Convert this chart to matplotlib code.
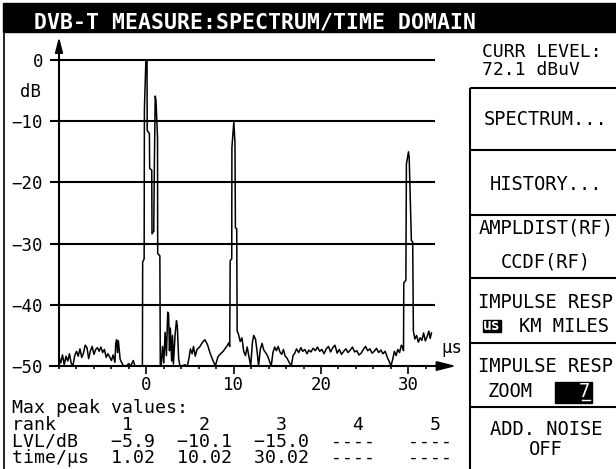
import matplotlib.pyplot as plt
from matplotlib.patches import Rectangle
from matplotlib.ticker import MultipleLocator

W, H = 616, 469

# impulse response trace: time in microseconds, level in dB
trace_us = [
    -10.0, -9.8, -9.6, -9.4, -9.2, -9.0, -8.8, -8.6, -8.4, -8.2, -8.0, -7.8,
    -7.6, -7.4, -7.2, -7.0, -6.8, -6.6, -6.4, -6.2, -6.0, -5.8, -5.6, -5.4,
    -5.2, -5.0, -4.8, -4.6, -4.4, -4.2, -4.0, -3.8, -3.6, -3.5, -3.4, -3.3,
    -3.2, -3.0, -2.8, -2.6, -2.3, -2.0, -1.8, -1.5, -1.3, -1.0, -0.6,
    # main echo cluster
    -0.45, -0.42, -0.25, -0.22, -0.05, 0.08, 0.1, 0.35, 0.38, 0.62, 0.65,
    0.85, 0.92, 1.02, 1.1, 1.28, 1.3, 1.55, 1.6,
    1.7, 1.85, 2.0, 2.15, 2.3, 2.45, 2.55, 2.65, 2.75, 2.9, 3.0, 3.1, 3.3,
    3.45, 3.55, 3.7, 3.85, 4.1, 4.4, 4.7, 4.9, 5.05, 5.25, 5.4, 5.6, 5.8,
    6.1, 6.4, 6.7, 7.0, 7.3, 7.6, 7.9, 8.2, 8.5, 8.8, 9.1, 9.3, 9.45,
    # echo at 10 us
    9.55, 9.6, 9.78, 9.8, 9.92, 10.02, 10.15, 10.2, 10.35, 10.4,
    10.55, 10.75, 10.95, 11.15, 11.35, 11.55, 11.75, 11.95, 12.15, 12.3,
    12.5, 12.7, 12.85, 13.05, 13.25, 13.45, 13.7, 13.9, 14.1, 14.3, 14.5,
    14.7, 14.9, 15.1, 15.3, 15.5, 15.7, 15.9, 16.1, 16.35, 16.6, 16.8, 17.0,
    17.2, 17.45, 17.7, 17.9, 18.15, 18.4, 18.6, 18.85, 19.1, 19.35, 19.6,
    19.85, 20.1, 20.35, 20.6, 20.85, 21.1, 21.35, 21.6, 21.85, 22.1, 22.35,
    22.6, 22.85, 23.1, 23.35, 23.6, 23.85, 24.1, 24.35, 24.6, 24.85, 25.1,
    25.35, 25.6, 25.85, 26.1, 26.35, 26.6, 26.85, 27.1, 27.35, 27.6, 27.85,
    28.0, 28.2, 28.4, 28.6, 28.8, 29.0, 29.2, 29.35,
    # echo at 30 us
    29.45, 29.48, 29.72, 29.78, 30.02, 30.1, 30.35, 30.5, 30.58,
    30.75, 30.95, 31.15, 31.35, 31.55, 31.75, 31.95, 32.15, 32.35, 32.5, 32.65,
]
trace_db = [
    -48.5, -49.5, -48.2, -49.8, -48.4, -49.2, -48.0, -49.6, -49.9, -48.3, -47.6, -48.4,
    -47.2, -48.6, -47.9, -46.6, -47.0, -48.8, -47.5, -46.8, -48.1, -47.3, -47.0, -47.6,
    -46.9, -47.8, -47.3, -48.6, -48.0, -48.5, -49.1, -48.2, -49.4, -46.3, -45.7, -47.8,
    -45.9, -48.9, -49.5, -50.0, -50.0, -49.6, -50.0, -49.1, -50.0, -50.0, -50.0,
    -50.0, -33.0, -32.5, -8.0, 0.0, 0.0, -11.5, -12.0, -17.7, -18.0, -28.4,
    -28.0, -17.0, -5.9, -6.5, -12.6, -31.6, -32.0, -50.0,
    -50.0, -46.8, -49.5, -44.5, -48.3, -41.2, -41.5, -47.5, -43.8, -49.2, -45.0, -49.7, -44.8,
    -42.6, -43.5, -48.8, -50.0, -50.0, -49.8, -50.0, -48.6, -47.2, -48.0, -46.8, -48.4, -47.3,
    -46.9, -46.2, -45.7, -46.5, -47.9, -49.0, -50.0, -48.5, -48.0, -47.6, -47.0, -46.6, -46.2,
    -46.8, -32.8, -32.5, -14.3, -12.0, -10.1, -13.6, -27.4, -27.6, -44.3,
    -44.8, -46.0, -45.4, -47.6, -48.3, -46.9, -48.5, -50.0, -46.1, -45.0,
    -45.6, -47.8, -50.0, -47.3, -46.3, -47.4, -47.9, -48.4, -49.2, -50.0, -47.8,
    -46.9, -47.5, -46.8, -47.7, -48.1, -47.3, -48.4, -48.7, -49.4, -50.0, -48.3, -47.9,
    -47.2, -47.8, -47.0, -47.6, -47.3, -48.0, -47.4, -47.7, -47.1, -47.5, -46.9,
    -47.6, -47.3, -48.0, -47.2, -46.8, -47.7, -47.0, -46.6, -47.9, -47.3, -48.1,
    -47.6, -47.2, -47.8, -47.4, -46.9, -47.7, -47.5, -48.2, -47.9, -47.3, -46.8,
    -47.5, -47.2, -47.9, -47.6, -47.1, -47.8, -47.4, -48.0, -47.6, -48.6, -49.4,
    -50.0, -49.0, -47.6, -48.3, -47.3, -47.8, -46.6, -46.9,
    -47.5, -36.4, -36.0, -17.0, -15.0, -16.0, -29.5, -29.7, -44.3,
    -45.6, -45.0, -46.1, -45.4, -45.8, -44.6, -45.9, -45.2, -44.3, -45.5, -44.6,
]

grid_db = [0, -10, -20, -30, -40]
ytick_db = [0, -10, -20, -30, -40, -50]
xtick_us = [0, 10, 20, 30]

peak_rank = [1, 2, 3, 4, 5]
peak_lvl = [-5.9, -10.1, -15.0, None, None]
peak_time = [1.02, 10.02, 30.02, None, None]

title = 'DVB-T MEASURE:SPECTRUM/TIME DOMAIN'
curr_level = ['CURR LEVEL:', '72.1 dBuV']
menu = [['SPECTRUM...'], ['HISTORY...'], ['AMPLDIST(RF)', 'CCDF(RF)'],
        ['IMPULSE RESP', 'KM MILES'], ['IMPULSE RESP', 'ZOOM'],
        ['ADD. NOISE', 'OFF']]
unit_sel = 'us'
zoom_value = '7'


def text_row(label, items, cols):
    # lay items out on the fixed character grid of the display
    s = label
    for item, c in zip(items, cols):
        s = s.ljust(c) + item
    return s


plt.rcParams['font.family'] = 'DejaVu Sans Mono'
plt.rcParams['axes.unicode_minus'] = True

fig = plt.figure(figsize=(W / 100, H / 100), dpi=100)

# screen layer in pixel units
scr = fig.add_axes([0, 0, 1, 1])
scr.set_xlim(0, W)
scr.set_ylim(H, 0)
scr.axis('off')

scr.add_patch(Rectangle((3, 3), W - 3, 29, color='black'))
scr.text(255, 28, title, color='white', fontsize=15.5, fontweight='bold',
         ha='center', va='baseline')
scr.plot([3.5, 3.5], [32, H], color='black', lw=1.2)

# right side soft-key menu
scr.text(482, 57, curr_level[0], fontsize=13, va='baseline')
scr.text(482, 75, curr_level[1], fontsize=13, va='baseline')
box_edges = [88, 150, 215, 278, 343, 407]
scr.vlines(470, 88, H, color='black', lw=1.5)
scr.hlines(box_edges, 470, W, color='black', lw=1.5)

menu_base = [[125], [190], [233, 267], [308, 332], [372, 397], [435, 455]]
for lines, bases in zip(menu, menu_base):
    for txt, yb in zip(lines, bases):
        if txt == 'ZOOM':
            scr.text(488, yb, txt, fontsize=13.5, va='baseline')
        elif txt == 'KM MILES':
            scr.text(519, yb, txt, fontsize=13.5, va='baseline')
        else:
            scr.text(546, yb, txt, fontsize=13.5, ha='center', va='baseline')

# highlighted unit selection and zoom value
scr.add_patch(Rectangle((483, 320), 18, 12, color='black'))
scr.text(492, 330.5, unit_sel, color='white', fontsize=10.5, fontweight='bold',
         ha='center', va='baseline')
scr.add_patch(Rectangle((555, 382), 37, 21, color='black'))
scr.text(590, 397, zoom_value, color='white', fontsize=13.5, ha='right', va='baseline')
scr.plot([582, 590], [400, 400], color='white', lw=1)

# peak table, one block of text on a character grid
lvl_txt = ['----' if v is None else f'{v:.1f}'.replace('-', '\u2212') for v in peak_lvl]
time_txt = ['----' if v is None else f'{v:.2f}' for v in peak_time]
table = [
    'Max peak values:',
    text_row('rank', [str(r) for r in peak_rank], [10, 17, 24, 31, 38]),
    text_row('LVL/dB', lvl_txt, [9, 15, 22, 29, 36]),
    text_row('time/\u00b5s', time_txt, [9, 15, 22, 29, 36]),
]
scr.text(12, 463, '\n'.join(table), fontsize=13.15, va='baseline',
         linespacing=0.895)

# time-domain plot
px_us, px_db = 8.733, 6.12
ax = fig.add_axes([59 / W, 1 - 372 / H, (452 - 59) / W, (372 - 42) / H])
ax.patch.set_visible(False)
ax.set_xlim(-10, -10 + (452 - 59) / px_us)
ax.set_ylim(-(372 - 60) / px_db, (60 - 42) / px_db)

for side in ['top', 'right']:
    ax.spines[side].set_visible(False)
ax.spines['bottom'].set_position(('data', -50))
ax.spines['bottom'].set_bounds(-11, 33.3)
ax.spines['left'].set_bounds(-50, 1.1)
for side in ['bottom', 'left']:
    ax.spines[side].set_linewidth(1.5)

ax.fill([33.2, 35.15, 33.2], [-49.3, -50, -50.7], color='black', clip_on=False)
ax.fill([-10.4, -10, -9.6], [1.1, 3.3, 1.1], color='black', clip_on=False)

ax.hlines(grid_db, -11, 33.1, color='black', lw=1.5, clip_on=False)
ax.plot(trace_us, trace_db, color='black', lw=1.1, clip_on=False)

ax.set_yticks(ytick_db)
ax.tick_params(axis='y', length=0, pad=11.5, labelsize=12.5)
ax.set_xticks(xtick_us)
ax.xaxis.set_minor_locator(MultipleLocator(2))
ax.tick_params(axis='x', which='major', length=5.5, width=1.2, pad=2, labelsize=12.5)
ax.tick_params(axis='x', which='minor', length=2.5, width=1.2)

ax.text(-12.1, -5.2, 'dB', fontsize=12.5, ha='right', va='center')
scr.text(441, 353, '\u00b5s', fontsize=12.5, va='baseline')

fig.savefig('out.png', dpi=100, facecolor='white')
